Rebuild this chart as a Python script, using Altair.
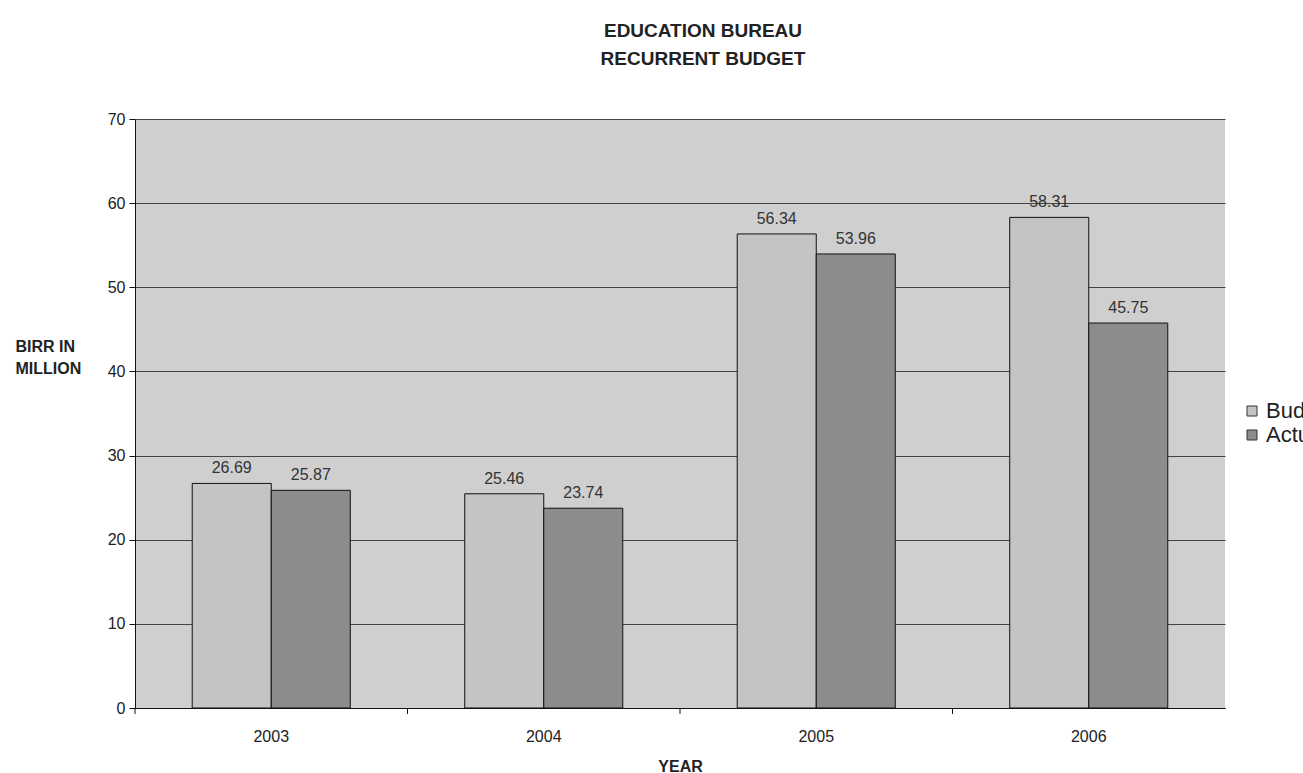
import altair as alt
import pandas as pd

# Recurrent budget of the Education Bureau, birr in millions
years = ["2003", "2004", "2005", "2006"]
budget = [26.69, 25.46, 56.34, 58.31]
actual = [25.87, 23.74, 53.96, 45.75]
series = ["Budget", "Actual"]

rows = []
for i, y in enumerate(years):
    rows.append({"year": y, "series": "Budget", "value": budget[i]})
    rows.append({"year": y, "series": "Actual", "value": actual[i]})
df = pd.DataFrame(rows)
years_df = pd.DataFrame({"year": years})

FONT = "Liberation Sans"
TEXT = "#222"
W, H = 1090, 589
PAD_INNER = 0.42

xscale = alt.Scale(paddingInner=PAD_INNER, paddingOuter=PAD_INNER / 2)
x = alt.X(
    "year:N",
    sort=years,
    title="YEAR",
    scale=xscale,
    axis=alt.Axis(
        labelAngle=0,
        labelFontSize=16,
        labelFont=FONT,
        labelColor=TEXT,
        labelPadding=20,
        ticks=False,
        domainColor="#111",
        titleFont=FONT,
        titleFontSize=16,
        titleFontWeight="bold",
        titleColor=TEXT,
        titlePadding=14,
    ),
)
y = alt.Y(
    "value:Q",
    scale=alt.Scale(domain=[0, 70]),
    axis=alt.Axis(
        values=[0, 10, 20, 30, 40, 50, 60, 70],
        labelFontSize=16,
        labelFont=FONT,
        labelColor=TEXT,
        labelPadding=4,
        tickSize=6,
        tickColor="#111",
        domainColor="#111",
        gridColor="#444",
        gridWidth=1,
        title=["BIRR IN", "MILLION"],
        titleAngle=0,
        titleAlign="left",
        titleBaseline="top",
        titleX=-120,
        titleY=219,
        titleFont=FONT,
        titleFontSize=16,
        titleFontWeight="bold",
        titleColor=TEXT,
        titleLineHeight=22,
    ),
)
xoff = alt.XOffset("series:N", sort=series, scale=alt.Scale(paddingInner=0, paddingOuter=0))

bars = alt.Chart(df).mark_bar(stroke="#111", strokeWidth=1).encode(
    x=x,
    y=y,
    xOffset=xoff,
    color=alt.Color(
        "series:N",
        sort=series,
        scale=alt.Scale(domain=series, range=["#c4c4c4", "#8c8c8c"]),
        legend=alt.Legend(
            title=None,
            orient="none",
            legendX=1106,
            legendY=281,
            symbolType="square",
            symbolSize=100,
            symbolStrokeColor="#333",
            symbolStrokeWidth=1,
            labelFont=FONT,
            labelFontSize=22,
            labelColor=TEXT,
            labelOffset=3,
            rowPadding=2,
        ),
    ),
)

# small category separators below the x axis, halfway between groups
half_gap = (W / len(years)) * PAD_INNER / 2
seps = alt.Chart(years_df).mark_rule(color="#111", xOffset=-half_gap).encode(
    x=alt.X("year:N", sort=years, scale=xscale, bandPosition=0),
    y=alt.value(H),
    y2=alt.value(H + 6),
)

labels = alt.Chart(df).mark_text(
    baseline="bottom", dy=-7, fontSize=16, font=FONT, color="#333"
).encode(
    x=x,
    y=y,
    xOffset=xoff,
    text=alt.Text("value:Q", format=".2f"),
)

chart = (
    alt.layer(bars, labels, seps)
    .properties(
        width=W,
        height=H,
        background="white",
        autosize=alt.AutoSizeParams(type="none"),
        padding={"left": 135, "top": 119, "right": 78, "bottom": 65},
        title=alt.Title(
            text=["EDUCATION BUREAU", "RECURRENT BUDGET"],
            font=FONT,
            fontSize=19,
            fontWeight="bold",
            color=TEXT,
            anchor="middle",
            dx=23,
            offset=42,
            lineHeight=28,
        ),
    )
    .configure_view(fill="#cfcfcf", strokeWidth=0)
)

chart.save("out.html", embed_options={"renderer": "svg", "actions": False})
